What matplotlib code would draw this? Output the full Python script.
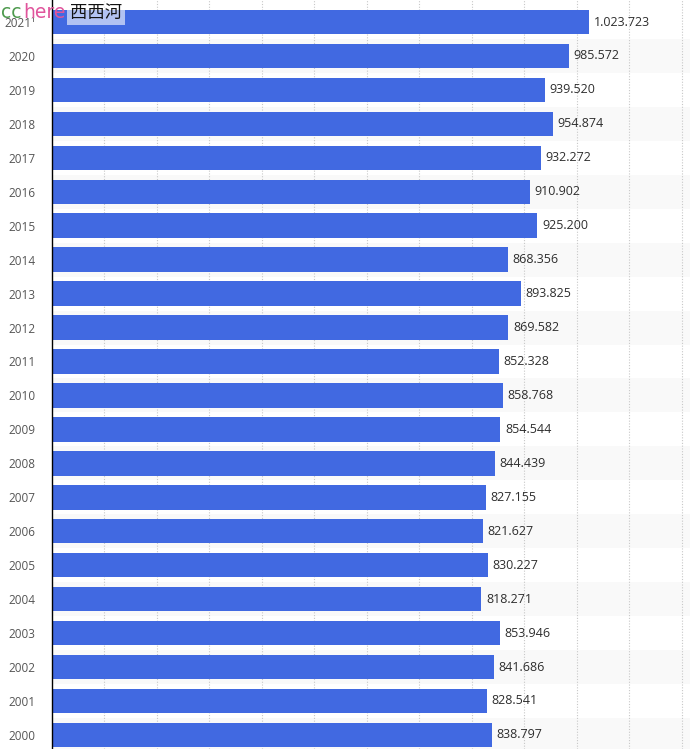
import matplotlib
matplotlib.use("Agg")
from matplotlib import pyplot as plt
import numpy as np

years = list(range(2000, 2022))
year_labels = [str(y) for y in years[:-1]] + ["2021\u00b9"]
values = [838.797, 828.541, 841.686, 853.946, 818.271, 830.227, 821.627, 827.155,
          844.439, 854.544, 858.768, 852.328, 869.582, 893.825, 868.356, 925.200,
          910.902, 932.272, 954.874, 939.520, 985.572, 1023.723]
value_labels = ["838.797", "828.541", "841.686", "853.946", "818.271", "830.227",
                "821.627", "827.155", "844.439", "854.544", "858.768", "852.328",
                "869.582", "893.825", "868.356", "925.200", "910.902", "932.272",
                "954.874", "939.520", "985.572", "1.023.723"]

W, H = 690, 749
fig = plt.figure(figsize=(W / 100, H / 100), dpi=100)
left = 52 / W
ax = fig.add_axes([left, 0, 1 - left, 1])

# alternating row stripes (even years shaded)
for y in years:
    if y % 2 == 0:
        ax.axhspan(y - 0.5, y + 0.5, color="#f9f9f9", zorder=0, lw=0)

for gx in range(100, 1300, 100):
    ax.axvline(gx, color="#c8c8c8", lw=0.8, ls=(0, (1, 1.5)), zorder=1)

ax.barh(years, values, height=0.72, color="#4169e1", zorder=2)

for y, v, lab in zip(years, values, value_labels):
    ax.text(v + 9, y, lab, va="center", ha="left", fontsize=9,
            family="Open Sans", color="#2e2e2e", zorder=3)

ax.set_xlim(0, (W - 52) / 0.5246)
ax.set_ylim(2021 - (H - 22) / 33.95, 2021 + 22 / 33.95)
ax.set_yticks(years)
ax.set_yticklabels(year_labels, family="Open Sans", fontsize=8.5, color="#555555")
ax.tick_params(axis="y", length=0, pad=12)
ax.set_xticks([])
for s in ["top", "right", "bottom"]:
    ax.spines[s].set_visible(False)
ax.spines["left"].set_color("black")
ax.spines["left"].set_linewidth(1)
ax.spines["left"].set_zorder(4)

# watermark
yb = 1 - 18 / H
fig.text(1 / W, yb, "cc", color="#4e9a4e", fontsize=13.5, family="DejaVu Sans", va="baseline")
fig.text(23 / W, yb, "here", color="#e0559c", fontsize=13.5, family="DejaVu Sans", va="baseline")
fig.text(70 / W, yb, "西西河", color="#111111", fontsize=12.5,
         family=["Noto Sans CJK SC", "DejaVu Sans"], va="baseline",
         bbox=dict(facecolor="white", alpha=0.6, edgecolor="none", pad=2))

fig.savefig("out.png", dpi=100)
